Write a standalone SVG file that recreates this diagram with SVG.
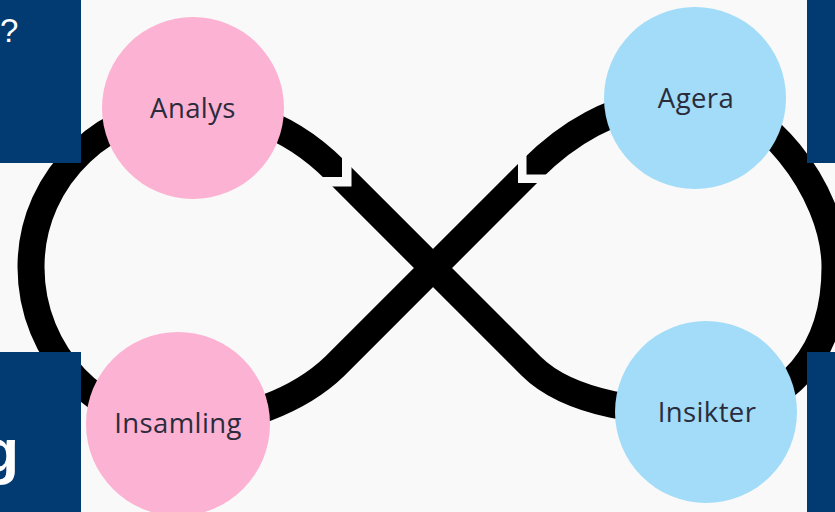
<svg xmlns="http://www.w3.org/2000/svg" width="835" height="512" viewBox="0 0 835 512">
  <defs>
    <style>
      .bg { fill: #f9f9f9; }
      .loop { fill: none; stroke: #000000; stroke-width: 27; stroke-linejoin: round; }
      .gap { fill: #f9f9f9; }
      .pink { fill: #fcb2d3; }
      .blue { fill: #a2dcf8; }
      .label { font-family: "Open Sans", "Noto Sans", sans-serif; font-size: 27.5px; letter-spacing: 0.4px; fill: #2a2c3c; text-anchor: middle; }
      .panel { fill: #013b71; }
      .panel-text { font-family: "Liberation Sans", Arial, sans-serif; fill: #ffffff; }
    </style>
  </defs>

  <rect class="bg" x="0" y="0" width="835" height="512"/>

  <!-- figure-eight cycle -->
  <g id="connectors">
    <path class="loop" d="M 433,268 L 335,170 C 305,140 260,110 193,108 C 110,106 31,175 31,267 C 31,355 100,424 178,424 C 240,424 300,400 335,366 L 531,170 C 560,141 610,100 695,98 C 760,96 835,190 835,267 C 835,350 790,410 706,412 C 650,414 570,405 531,366 L 433,268 Z"/>
    <!-- chevron joints showing direction -->
    <polygon class="gap" points="342,150 342,177 315,177 315,186.5 351.5,186.5 351.5,150"/>
    <polygon class="gap" points="526.5,150 526.5,174.5 553,174.5 553,183 518,183 518,150"/>
  </g>

  <g id="analys">
    <circle class="pink" cx="193" cy="108" r="91"/>
    <text class="label" x="193" y="118">Analys</text>
  </g>

  <g id="agera">
    <circle class="blue" cx="695" cy="98" r="91"/>
    <text class="label" x="696" y="108">Agera</text>
  </g>

  <g id="insamling">
    <circle class="pink" cx="178" cy="424" r="92"/>
    <text class="label" x="178" y="433">Insamling</text>
  </g>

  <g id="insikter">
    <circle class="blue" cx="706" cy="412" r="91"/>
    <text class="label" x="707" y="422">Insikter</text>
  </g>

  <!-- side panels -->
  <g id="panel-top-left">
    <rect class="panel" x="0" y="0" width="81" height="163"/>
    <text class="panel-text" x="0" y="42" font-size="33">?</text>
  </g>
  <g id="panel-bottom-left">
    <rect class="panel" x="0" y="352" width="81" height="160"/>
    <text class="panel-text" x="19" y="472" font-size="62" font-weight="bold" text-anchor="end">g</text>
  </g>
  <g id="panel-top-right">
    <rect class="panel" x="807" y="0" width="28" height="163"/>
  </g>
  <g id="panel-bottom-right">
    <rect class="panel" x="807" y="352" width="28" height="160"/>
  </g>
</svg>
